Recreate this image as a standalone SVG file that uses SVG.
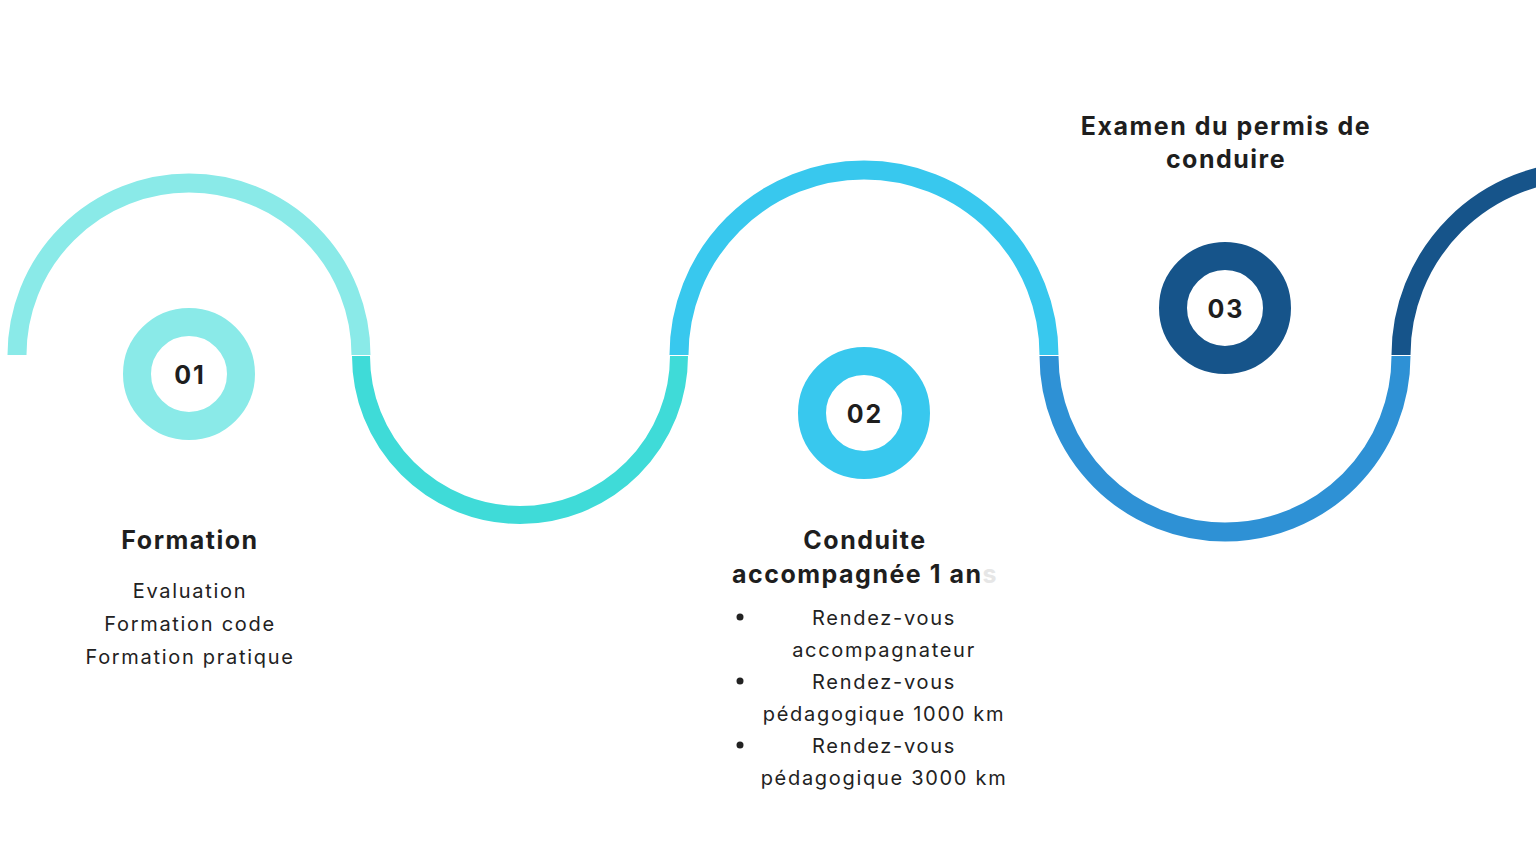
<svg xmlns="http://www.w3.org/2000/svg" width="1536" height="864" viewBox="0 0 1536 864">
<style>
.arc{fill:none;stroke-linecap:butt}
.ring{fill:#fff;stroke-width:28}
.num{font-family:Inter,"Open Sans",sans-serif;font-weight:700;font-size:25px;fill:#1e1e1e;text-anchor:middle;letter-spacing:2px}
.title{font-family:Inter,"Open Sans",sans-serif;font-weight:700;font-size:25px;fill:#1e1e1e;text-anchor:middle;letter-spacing:1.5px}
.body{font-family:Inter,"Open Sans",sans-serif;font-size:20px;fill:#222;text-anchor:middle;letter-spacing:1.7px}
</style>
<rect width="1536" height="864" fill="#fff"/>
<g id="connectors">
<path class="arc" d="M17,355 A172,172 0 0 1 361,355" stroke="#8AEAE8" stroke-width="19"/>
<path class="arc" d="M361,356 A159,159 0 0 0 679,356" stroke="#3FDBD8" stroke-width="18"/>
<path class="arc" d="M679,355 A185,185 0 0 1 1049,355" stroke="#38C8EE" stroke-width="19"/>
<path class="arc" d="M1049,356 A176,176 0 0 0 1401,356" stroke="#2E91D5" stroke-width="19"/>
<path class="arc" d="M1401,355 A184,184 0 0 1 1769,355" stroke="#16548A" stroke-width="19"/>
</g>
<g id="node-01">
<circle class="ring" cx="189" cy="374" r="52" stroke="#8AEAE8"/>
<text class="num" x="190" y="384">01</text>
<text class="title" x="190" y="549">Formation</text>
<text class="body" x="190" y="598">Evaluation</text>
<text class="body" x="190" y="631">Formation code</text>
<text class="body" x="190" y="664">Formation pratique</text>
</g>
<g id="node-02">
<circle class="ring" cx="864" cy="413" r="52" stroke="#38C8EE"/>
<text class="num" x="865" y="423">02</text>
<text class="title" x="865" y="549">Conduite</text>
<text class="title" x="865" y="583">accompagnée 1 an<tspan fill="#e6e6e6">s</tspan></text>
<circle cx="740" cy="617" r="3.5" fill="#222"/>
<circle cx="740" cy="681" r="3.5" fill="#222"/>
<circle cx="740" cy="745" r="3.5" fill="#222"/>
<text class="body" x="884" y="625">Rendez-vous</text>
<text class="body" x="884" y="657">accompagnateur</text>
<text class="body" x="884" y="689">Rendez-vous</text>
<text class="body" x="884" y="721">pédagogique 1000 km</text>
<text class="body" x="884" y="753">Rendez-vous</text>
<text class="body" x="884" y="785">pédagogique 3000 km</text>
</g>
<g id="node-03">
<circle class="ring" cx="1225" cy="308" r="52" stroke="#16548A"/>
<text class="num" x="1226" y="318">03</text>
<text class="title" x="1226" y="135">Examen du permis de</text>
<text class="title" x="1226" y="168">conduire</text>
</g>
</svg>
